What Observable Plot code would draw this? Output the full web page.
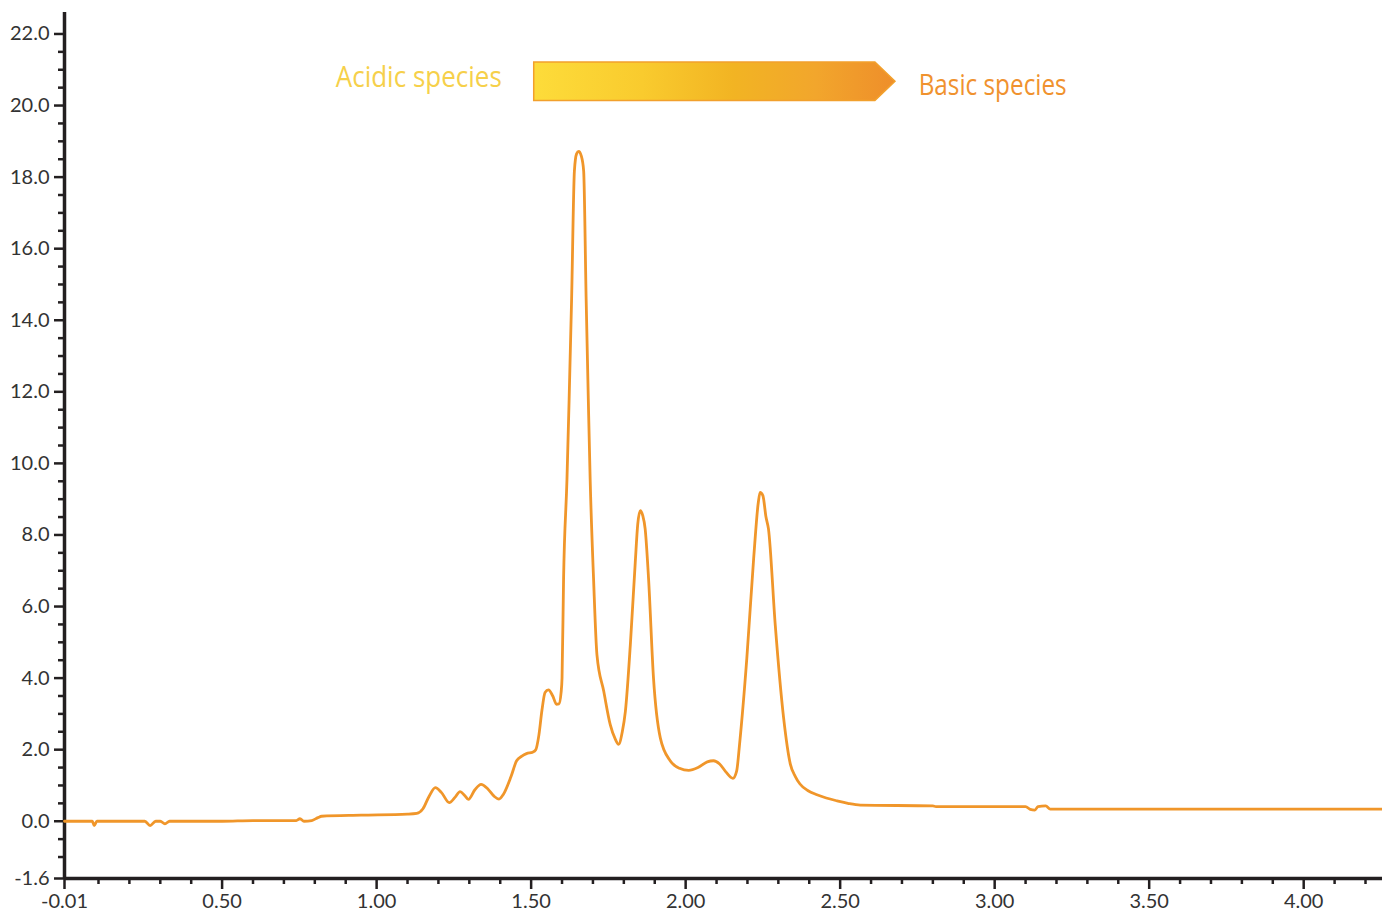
<!DOCTYPE html>
<html><head><meta charset="utf-8">
<script src="https://cdn.jsdelivr.net/npm/d3@7"></script>
<script src="https://cdn.jsdelivr.net/npm/@observablehq/plot@0.6"></script>
<style>
html,body{margin:0;padding:0;background:#fff;}
#chart{width:1382px;height:916px;}
</style></head><body><div id="chart"></div>
<script>
// retention time (min)
const time = [
-0.01,0.08,0.086,0.095,0.25,0.267,0.285,0.30,0.315,0.33,0.50,0.60,0.74,0.752,0.765,0.79,0.81,0.822,0.95,1.10,
1.13,1.15,1.17,1.19,1.21,1.235,1.255,1.27,1.285,1.297,1.318,1.338,1.36,1.38,1.396,1.41,1.435,1.453,1.47,1.485,
1.505,1.515,1.525,1.535,1.545,1.556,1.57,1.582,1.59,1.597,1.60,1.605,1.616,1.623,1.631,1.640,1.647,1.654,1.662,1.670,
1.678,1.685,1.691,1.702,1.713,1.735,1.756,1.772,1.783,1.795,1.805,1.821,1.837,1.845,1.853,1.861,1.869,1.88,1.896,1.918,
1.95,1.98,2.01,2.04,2.07,2.09,2.11,2.13,2.153,2.165,2.175,2.198,2.22,2.235,2.241,2.25,2.26,2.268,2.29,2.317,
2.339,2.355,2.37,2.395,2.425,2.455,2.49,2.525,2.565,2.80,2.81,3.10,3.115,3.13,3.14,3.165,3.18,4.255
];
// absorbance signal
const signal = [
0.0,0.0,-0.12,0.0,0.0,-0.12,0.0,0.0,-0.07,0.0,0.0,0.02,0.02,0.07,0.0,0.02,0.10,0.14,0.17,0.20,
0.22,0.35,0.70,0.94,0.80,0.52,0.68,0.83,0.72,0.61,0.88,1.03,0.90,0.70,0.62,0.75,1.25,1.69,1.82,1.89,
1.93,2.00,2.40,3.10,3.60,3.67,3.50,3.27,3.28,3.60,4.00,6.78,9.56,11.8,14.6,18.17,18.65,18.72,18.6,18.17,
14.6,11.8,9.56,6.78,4.65,3.63,2.70,2.30,2.15,2.50,3.07,4.93,7.24,8.30,8.68,8.55,8.17,6.78,4.00,2.33,
1.69,1.48,1.42,1.50,1.66,1.69,1.60,1.38,1.20,1.40,2.20,4.56,7.33,8.90,9.19,9.10,8.50,8.17,5.48,2.89,
1.59,1.25,1.04,0.86,0.74,0.65,0.57,0.50,0.45,0.43,0.41,0.41,0.33,0.31,0.41,0.43,0.34,0.34
];
const xMajorTicks = [-0.01,0.5,1.0,1.5,2.0,2.5,3.0,3.5,4.0];
const yMajorTicks = [22,20,18,16,14,12,10,8,6,4,2,0,-1.6];
const annotationTexts = ["Acidic species","Basic species"];
const annotationX = [1.405, 2.754];
const annotationY = [20.52, 20.30];
// arrow: start, shaft end, tip (x); bottom, top (y)
const arrowX = [1.51, 2.614, 2.679];
const arrowY = [20.13, 21.2];

const xMinorTicks = d3.range(1, 43).map(d => d / 10).filter(d => Math.round(d * 10) % 5 !== 0);
const yMinorTicks = d3.range(-2, 44).map(d => d / 2).filter(d => d % 2 !== 0);

const data = time.map((t, i) => ({t, v: signal[i]}));
const labels = annotationTexts.map((text, i) => ({text, x: annotationX[i], y: annotationY[i]}));

function arrowMark(index, scales) {
  const {x, y} = scales;
  const g = d3.create("svg:g");
  const grad = g.append("defs").append("linearGradient")
    .attr("id", "arrowGrad").attr("x1", "0%").attr("x2", "100%").attr("y1", "0%").attr("y2", "0%");
  [["0%", "#FDDC3A"], ["30%", "#F9CB2E"], ["55%", "#F2B423"], ["78%", "#F2A62C"], ["100%", "#EE8E2A"]]
    .forEach(([o, c]) => grad.append("stop").attr("offset", o).attr("stop-color", c));
  const x0 = x(arrowX[0]), x1 = x(arrowX[1]), x2 = x(arrowX[2]);
  const yb = y(arrowY[0]), yt = y(arrowY[1]), ym = (yt + yb) / 2;
  g.append("path")
    .attr("d", `M${x0},${yt}L${x1},${yt}L${x2},${ym}L${x1},${yb}L${x0},${yb}Z`)
    .attr("fill", "url(#arrowGrad)")
    .attr("stroke", "#F2A02C").attr("stroke-width", 1.5);
  return g.node();
}

const axisColor = "#231f20";
const labelFont = "'Open Sans', 'DejaVu Sans', sans-serif";
const chart = Plot.plot({
  width: 1382,
  height: 916,
  marginLeft: 64,
  marginRight: 0,
  marginTop: 12,
  marginBottom: 38,
  style: {fontFamily: "Lato, 'Open Sans', sans-serif", fontSize: "20px", color: "#333", background: "#fff"},
  x: {domain: [-0.01, 4.255]},
  y: {domain: [-1.6, 22.6]},
  marks: [
    Plot.axisY(yMinorTicks, {tickSize: 6, tickFormat: null, text: null, stroke: axisColor, strokeWidth: 2.5}),
    Plot.axisY(yMajorTicks, {tickSize: 10, tickPadding: 5, tickFormat: d => d.toFixed(1), stroke: axisColor, strokeWidth: 2.5, fill: "#333", fontSize: 20, label: null}),
    Plot.axisX(xMinorTicks, {tickSize: 6, tickFormat: null, text: null, stroke: axisColor, strokeWidth: 2.5}),
    Plot.axisX(xMajorTicks, {tickSize: 11, tickPadding: 4, tickFormat: d => d.toFixed(2), stroke: axisColor, strokeWidth: 2.5, fill: "#333", fontSize: 20, label: null}),
    Plot.ruleX([-0.01], {stroke: axisColor, strokeWidth: 3.5}),
    Plot.ruleY([-1.6], {stroke: axisColor, strokeWidth: 3.5}),
    Plot.line(data, {x: "t", y: "v", stroke: "#F0962A", strokeWidth: 2.8, curve: "monotone-x"}),
    arrowMark,
    Plot.text(labels.slice(0, 1), {x: "x", y: "y", text: "text", textAnchor: "end", lineAnchor: "bottom",
      fill: "#F6D04A", fontSize: 29, fontFamily: labelFont}),
    Plot.text(labels.slice(1), {x: "x", y: "y", text: "text", textAnchor: "start", lineAnchor: "bottom",
      fill: "#F0922E", fontSize: 29, fontFamily: labelFont})
  ]
});
document.getElementById("chart").appendChild(chart);
// condense the annotation glyphs to the reference's narrow typeface width
const annotationWidth = {"Acidic species": 166, "Basic species": 148};
d3.select(chart).selectAll("text").each(function() {
  const t = this.textContent;
  if (annotationWidth[t]) {
    d3.select(this).attr("textLength", annotationWidth[t]).attr("lengthAdjust", "spacingAndGlyphs");
  }
});
</script>
</body></html>
